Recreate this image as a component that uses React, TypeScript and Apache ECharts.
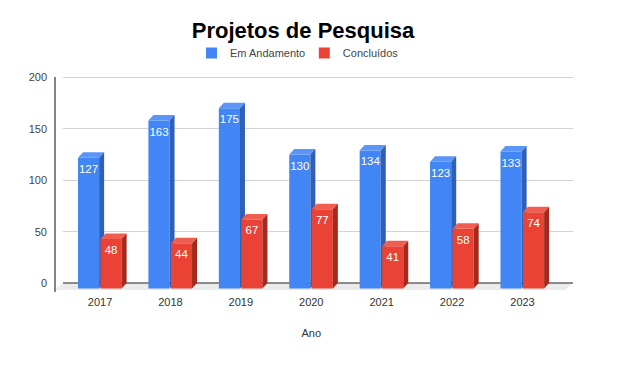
import React, { useEffect, useRef } from "react";
import * as echarts from "echarts";

const categories = ["2017", "2018", "2019", "2020", "2021", "2022", "2023"];
const emAndamento = [127, 163, 175, 130, 134, 123, 133];
const concluidos = [48, 44, 67, 77, 41, 58, 74];
const yMin = 0;
const yMax = 200;
const yInterval = 50;

const FONT = '"Liberation Sans", Arial, sans-serif';

const blue = { front: "#4285F4", top: "#5B96F6", side: "#2F5FB6" };
const red = { front: "#EA4335", top: "#EF5E51", side: "#A52A1E" };

function makeBarRender(idx: number, c: { front: string; top: string; side: string }) {
  return (params: any, api: any) => {
    const i = api.value(0);
    const v = api.value(1);
    const base = api.coord([i, 0]);
    const top = api.coord([i, v]);
    const band = api.size([1, 0])[0];
    const w = band * 0.3;
    const x0 = base[0] + (idx === 0 ? -0.3125 * band : 0.007 * band);
    const dx = band * 0.071;
    const dy = 5.5;
    const yt = top[1];
    const yb = base[1];
    return {
      type: "group",
      children: [
        {
          type: "rect",
          shape: { x: x0, y: yt, width: w, height: yb - yt },
          style: { fill: c.front },
        },
        {
          type: "polygon",
          shape: {
            points: [
              [x0, yt],
              [x0 + w, yt],
              [x0 + w + dx, yt - dy],
              [x0 + dx, yt - dy],
            ],
          },
          style: { fill: c.top },
        },
        {
          type: "polygon",
          shape: {
            points: [
              [x0 + w, yt],
              [x0 + w + dx, yt - dy],
              [x0 + w + dx, yb - dy],
              [x0 + w, yb],
            ],
          },
          style: { fill: c.side },
        },
        {
          type: "text",
          x: x0 + w / 2,
          y: yt + 11,
          style: {
            text: String(v),
            fill: "#ffffff",
            font: `11.5px ${FONT}`,
            align: "center",
            verticalAlign: "middle",
          },
        },
      ],
    };
  };
}

function floorRender(params: any, api: any) {
  const cs = params.coordSys;
  const bx0 = cs.x;
  const bx1 = cs.x + cs.width;
  const by = cs.y + cs.height;
  const fdx = 8;
  const fdy = 7;
  return {
    type: "group",
    children: [
      {
        type: "polygon",
        shape: {
          points: [
            [bx0, by],
            [bx1, by],
            [bx1 - fdx, by + fdy],
            [bx0 - fdx, by + fdy],
          ],
        },
        style: { fill: "#ebebeb" },
      },
      {
        type: "line",
        shape: { x1: bx0, y1: by, x2: bx1, y2: by },
        style: { stroke: "#222", lineWidth: 1.2 },
      },
      {
        type: "line",
        shape: { x1: bx0 - fdx, y1: cs.y, x2: bx0 - fdx, y2: by + fdy + 2 },
        style: { stroke: "#333", lineWidth: 1.2 },
      },
    ],
  };
}

export default function App() {
  const ref = useRef<HTMLDivElement>(null);
  useEffect(() => {
    if (!ref.current) return;
    const chart = echarts.init(ref.current, undefined, { renderer: "svg" });
    chart.setOption({
      animation: false,
      backgroundColor: "#ffffff",
      graphic: [
        {
          type: "text",
          x: 303,
          y: 30,
          style: {
            text: "Projetos de Pesquisa",
            font: `bold 22px ${FONT}`,
            fill: "#000",
            align: "center",
            verticalAlign: "middle",
          },
        },
      ],
      legend: {
        left: 206,
        top: 47.5,
        padding: 0,
        itemWidth: 11,
        itemHeight: 11,
        itemGap: 13,
        icon: "rect",
        data: ["Em Andamento", "Concluídos"],
        textStyle: { color: "#444", fontSize: 11, fontFamily: FONT, padding: [0, 0, 0, 8] },
      },
      grid: [
        { left: 63, right: 62, top: 77, bottom: 100 },
        { left: 64.8, right: 77.3, top: 82.5, bottom: 94.5 },
      ],
      xAxis: [
        { gridIndex: 0, type: "category", data: categories, show: false },
        {
          gridIndex: 1,
          type: "category",
          data: categories,
          axisLine: { show: false },
          axisTick: { show: false },
          axisLabel: { margin: 8, color: "#333", fontSize: 11, fontFamily: FONT },
          name: "Ano",
          nameLocation: "middle",
          nameGap: 39,
          nameTextStyle: { color: "#333", fontSize: 11, fontFamily: FONT },
        },
      ],
      yAxis: [
        {
          gridIndex: 0,
          type: "value",
          min: yMin,
          max: yMax,
          interval: yInterval,
          offset: 8,
          axisLine: { show: false },
          axisTick: { show: false },
          axisLabel: { margin: 8, color: "#444", fontSize: 11, fontFamily: FONT },
          splitLine: { lineStyle: { color: "#d4d4d4", width: 1 } },
        },
        {
          gridIndex: 1,
          type: "value",
          min: yMin,
          max: yMax,
          interval: yInterval,
          show: false,
          splitLine: { show: false },
        },
      ],
      series: [
        {
          type: "custom",
          name: "floor",
          xAxisIndex: 0,
          yAxisIndex: 0,
          data: [[0, 0]],
          renderItem: floorRender,
          silent: true,
        },
        {
          type: "custom",
          name: "Em Andamento",
          xAxisIndex: 1,
          yAxisIndex: 1,
          itemStyle: { color: blue.front },
          encode: { x: 0, y: 1 },
          data: emAndamento.map((v, i) => [i, v]),
          renderItem: makeBarRender(0, blue),
        },
        {
          type: "custom",
          name: "Concluídos",
          xAxisIndex: 1,
          yAxisIndex: 1,
          itemStyle: { color: red.front },
          encode: { x: 0, y: 1 },
          data: concluidos.map((v, i) => [i, v]),
          renderItem: makeBarRender(1, red),
        },
      ],
    });
    return () => chart.dispose();
  }, []);
  return (
    <div
      ref={ref}
      style={{ position: "absolute", left: 0, top: 0, width: 635, height: 383 }}
    />
  );
}
